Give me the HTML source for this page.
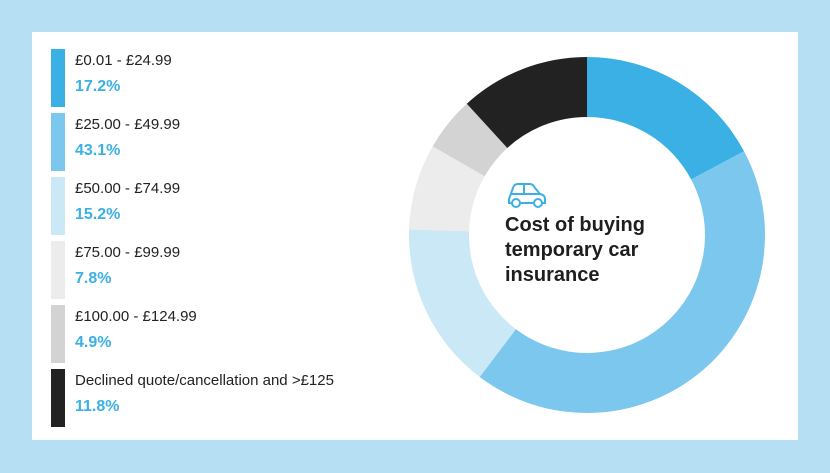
<!DOCTYPE html>
<html><head><meta charset="utf-8"><style>
body{margin:0;width:830px;height:473px;background:#b7dff3;font-family:"Liberation Sans",sans-serif;position:relative;overflow:hidden}
#panel{position:absolute;left:32px;top:32px;width:766px;height:408px;background:#fff}
.item{position:absolute;left:19px;height:58px}
.sw{position:absolute;left:0;top:0;width:14px;height:58px}
.lab{position:absolute;left:24px;top:3px;font-size:15px;color:#222;white-space:nowrap}
.pct{position:absolute;left:24px;top:29px;font-size:16px;font-weight:bold;color:#3bb0e4}
#title{position:absolute;left:505px;top:213px;font-size:20px;font-weight:bold;color:#1e1e1e;line-height:25px}
</style></head><body>
<div id="panel">
<div id="legend"></div>
</div>
<svg id="chart" width="830" height="473" style="position:absolute;left:0;top:0">
<g id="slices"></g>
<g fill="none" stroke="#3bb0e4" stroke-width="2">
<path d="M509 199 L513 188 Q514 184 518 184 L530 184 Q533 184 535 188 L540 194 Q545 195 545 199 L545 203 L509 203 Z"/>
<line x1="524" y1="184" x2="524" y2="194"/><line x1="511" y1="194" x2="540" y2="194"/>
<circle cx="516" cy="203" r="4" fill="#fff"/><circle cx="538" cy="203" r="4" fill="#fff"/>
</g>
</svg>
<div id="title">Cost of buying<br>temporary car<br>insurance</div>
<script>
const categories=["£0.01 - £24.99","£25.00 - £49.99","£50.00 - £74.99","£75.00 - £99.99","£100.00 - £124.99","Declined quote/cancellation and >£125"];
const values=[17.2,43.1,15.2,7.8,4.9,11.8];
const colors=["#3bb0e4","#7cc7ee","#cbe8f7","#ececec","#d3d3d3","#222222"];
const cx=587,cy=235,R=178,r=118;
const g=document.getElementById('slices');
const total=values.reduce((a,b)=>a+b,0);
function pt(a,rad){return [cx+rad*Math.sin(a),cy-rad*Math.cos(a)];}
let acc=0;
values.forEach((v,i)=>{
 const a0=acc/total*2*Math.PI;acc+=v;const a1=acc/total*2*Math.PI;
 const lg=(a1-a0)>Math.PI?1:0;
 const p0=pt(a0,R),p1=pt(a1,R),q1=pt(a1,r),q0=pt(a0,r);
 const p=document.createElementNS('http://www.w3.org/2000/svg','path');
 p.setAttribute('d',`M${p0[0]} ${p0[1]} A${R} ${R} 0 ${lg} 1 ${p1[0]} ${p1[1]} L${q1[0]} ${q1[1]} A${r} ${r} 0 ${lg} 0 ${q0[0]} ${q0[1]}Z`);
 p.setAttribute('fill',colors[i]);
 
 
 g.appendChild(p);
});
const lg=document.getElementById('legend');
categories.forEach((c,i)=>{
 const d=document.createElement('div');d.className='item';d.style.top=(17+i*64)+'px';
 
 
 d.innerHTML=`<div class="sw" style="background:${colors[i]}"></div><div class="lab">${c.replace('>','&gt;')}</div><div class="pct">${values[i].toFixed(1)}%</div>`;
 lg.appendChild(d);
});
</script>
</body></html>
